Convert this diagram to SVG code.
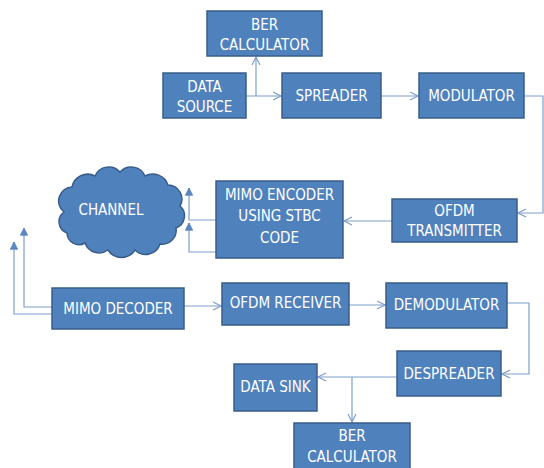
<svg xmlns="http://www.w3.org/2000/svg" width="544" height="468" viewBox="0 0 544 468">
<defs>
<marker id="ah" viewBox="0 0 10 10" refX="9" refY="5" markerWidth="10" markerHeight="10" markerUnits="userSpaceOnUse" orient="auto">
<path d="M1 1 L9 5 L1 9" fill="none" stroke="#7f9fcc" stroke-width="1.2"/>
</marker>
<marker id="ahb" viewBox="0 0 10 10" refX="9" refY="5" markerWidth="9" markerHeight="9" markerUnits="userSpaceOnUse" orient="auto">
<path d="M1 1 L9 5 L1 9 Z" fill="#5b86bf" stroke="#5b86bf" stroke-width="1"/>
</marker>
</defs>
<style>
.box{fill:#4f81bd;stroke:#385d8a;stroke-width:1.5}
.t{font-family:"DejaVu Sans Condensed","Liberation Sans Narrow","Liberation Sans",sans-serif;font-size:15px;fill:#ffffff;text-anchor:middle}
.c{fill:none;stroke:#7f9fcc;stroke-width:1.2}
</style>
<rect width="544" height="468" fill="#ffffff"/>
<g id="connectors">
<path class="c" d="M246 96 H281" marker-end="url(#ah)"/>
<path class="c" d="M256 96 V57" marker-end="url(#ah)"/>
<path class="c" d="M381 96 H418" marker-end="url(#ah)"/>
<path class="c" d="M524 96 H543 V213 H518" marker-end="url(#ah)"/>
<path class="c" d="M392 221 H344" marker-end="url(#ah)"/>
<path class="c" d="M216 220 H189 V188" marker-end="url(#ahb)"/>
<path class="c" d="M216 252 H189 V223" marker-end="url(#ahb)"/>
<path class="c" d="M52 314 H14 V242" marker-end="url(#ahb)"/>
<path class="c" d="M52 307 H24 V228" marker-end="url(#ahb)"/>
<path class="c" d="M184 306 H221" marker-end="url(#ah)"/>
<path class="c" d="M349 305 H385" marker-end="url(#ah)"/>
<path class="c" d="M507 303 H529 V374 H502" marker-end="url(#ah)"/>
<path class="c" d="M397 377 H318" marker-end="url(#ah)"/>
<path class="c" d="M352 377 V422" marker-end="url(#ah)"/>
</g>
<g id="ber1">
<rect class="box" x="207" y="11" width="115" height="45"/>
<text class="t" x="264.5" y="30">BER</text>
<text class="t" x="264.5" y="50">CALCULATOR</text>
</g>
<g id="datasource">
<rect class="box" x="163" y="73" width="83" height="45"/>
<text class="t" x="204.5" y="92">DATA</text>
<text class="t" x="204.5" y="112">SOURCE</text>
</g>
<g id="spreader">
<rect class="box" x="282" y="73" width="99" height="45"/>
<text class="t" x="331.5" y="101">SPREADER</text>
</g>
<g id="modulator">
<rect class="box" x="419" y="73" width="105" height="45"/>
<text class="t" x="471.5" y="101">MODULATOR</text>
</g>
<g id="ofdmtx">
<rect class="box" x="392" y="199" width="125" height="43"/>
<text class="t" x="454.5" y="216">OFDM</text>
<text class="t" x="454.5" y="236">TRANSMITTER</text>
</g>
<g id="mimoenc">
<rect class="box" x="216" y="181" width="127" height="77"/>
<text class="t" x="279.5" y="200">MIMO ENCODER</text>
<text class="t" x="279.5" y="221">USING STBC</text>
<text class="t" x="279.5" y="243">CODE</text>
</g>
<g id="channel">
<path d="M64 212 A14 14 0 0 1 72 187 A16 16 0 0 1 95 176 A15 15 0 0 1 120 172 A15 15 0 0 1 145 176 A16 16 0 0 1 168 185 A14 14 0 0 1 180 206 A13 13 0 0 1 176 228 A14 14 0 0 1 160 244 A15 15 0 0 1 135 250 A16 16 0 0 1 108 250 A15 15 0 0 1 85 243 A12 12 0 0 1 67 233 A12 12 0 0 1 64 212 Z" fill="#4f81bd" stroke="#385d8a" stroke-width="1.5"/>
<text class="t" x="111" y="215">CHANNEL</text>
</g>
<g id="mimodec">
<rect class="box" x="52" y="288" width="132" height="41"/>
<text class="t" x="118" y="314">MIMO DECODER</text>
</g>
<g id="ofdmrx">
<rect class="box" x="222" y="283" width="127" height="42"/>
<text class="t" x="285.5" y="308">OFDM RECEIVER</text>
</g>
<g id="demod">
<rect class="box" x="386" y="283" width="121" height="45"/>
<text class="t" x="446.5" y="310">DEMODULATOR</text>
</g>
<g id="despreader">
<rect class="box" x="397" y="351" width="104" height="45"/>
<text class="t" x="449" y="379">DESPREADER</text>
</g>
<g id="datasink">
<rect class="box" x="234" y="364" width="83" height="47"/>
<text class="t" x="275.5" y="392">DATA SINK</text>
</g>
<g id="ber2">
<rect class="box" x="294" y="423" width="116" height="50"/>
<text class="t" x="352" y="441">BER</text>
<text class="t" x="352" y="462">CALCULATOR</text>
</g>
</svg>
